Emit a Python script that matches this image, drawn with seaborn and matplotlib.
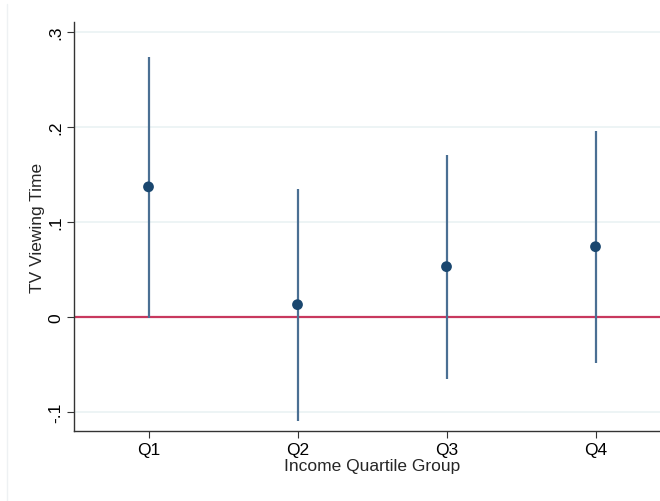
import numpy as np
import pandas as pd
from matplotlib import pyplot as plt
from matplotlib.lines import Line2D
import seaborn as sns

# coefficients and 95% CIs
groups = ["Q1", "Q2", "Q3", "Q4"]
coef = [0.137, 0.013, 0.053, 0.074]
ci_low = [-0.001, -0.109, -0.065, -0.048]
ci_high = [0.274, 0.135, 0.171, 0.196]
yticks = [-0.1, 0.0, 0.1, 0.2, 0.3]
ytick_labels = ["-.1", "0", ".1", ".2", ".3"]

sns.set_theme(style="white")
plt.rcParams['font.family'] = ['Liberation Sans', 'DejaVu Sans']

df = pd.DataFrame({"group": groups, "coef": coef, "lo": ci_low, "hi": ci_high})
df["pos"] = np.arange(1, len(groups) + 1)

fig = plt.figure(figsize=(6.6, 5.02), dpi=100)
ax = fig.add_axes([74 / 660, 70 / 502, 596 / 660, 409 / 502])

for y in yticks:
    ax.axhline(y, color="#eaf2f3", lw=1.2, zorder=0)
ax.axhline(0, color="#c8385e", lw=1.6, zorder=1)

ax.vlines(df["pos"], df["lo"], df["hi"], color="#4a6f93", lw=1.6, zorder=2)
sns.scatterplot(data=df, x="pos", y="coef", ax=ax, color="#1a476f",
                s=60, edgecolor="none", zorder=3)

ax.set_xlim(0.5, 4.5)
ax.set_ylim(-0.12, 0.3105)
ax.set_xticks(df["pos"])
ax.set_xticklabels(groups)
ax.set_yticks(yticks)
ax.set_yticklabels(ytick_labels, rotation=90, va="center")
ax.tick_params(axis="both", labelsize=12.5, length=5, width=0.8,
               color="#333333", labelcolor="black", pad=3)
ax.tick_params(axis="x", bottom=True)
ax.tick_params(axis="y", left=True)

ax.set_xlabel("Income Quartile Group", fontsize=12.5, labelpad=1)
ax.set_ylabel("TV Viewing Time", fontsize=12.5, labelpad=2)

for side in ["top", "right"]:
    ax.spines[side].set_visible(False)
for side in ["left", "bottom"]:
    ax.spines[side].set_color("#333333")
    ax.spines[side].set_linewidth(1.0)

fig.add_artist(Line2D([7 / 660, 7 / 660], [0, 497 / 502],
                      transform=fig.transFigure, color="#eef1f3", lw=1))

fig.savefig("out.png", dpi=100)
plt.close("all")
